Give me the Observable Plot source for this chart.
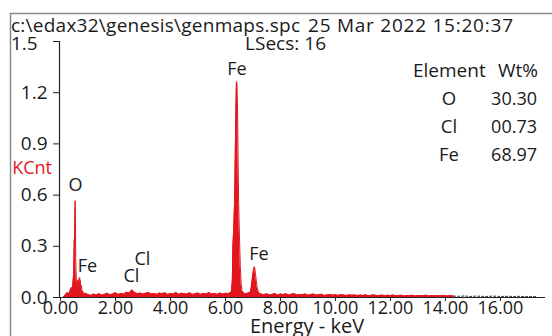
<!DOCTYPE html>
<html><head><meta charset="utf-8">
<script src="https://cdn.jsdelivr.net/npm/d3@7"></script>
<script src="https://cdn.jsdelivr.net/npm/@observablehq/plot@0.6"></script>
<style>
html,body{margin:0;padding:0;background:#fff;}
#chart{width:552px;height:336px;overflow:hidden;}
</style>
</head><body><div id="chart"></div>
<script>
// Spectrum (keV, kCnt)
const energy = [0.10,0.15,0.20,0.25,0.30,0.35,0.40,0.43,0.46,0.48,0.50,0.51,0.52,0.53,0.54,0.55,0.56,0.58,0.60,0.62,0.64,0.66,0.68,0.70,0.71,0.72,0.74,0.76,0.78,0.80,0.85,0.90,
1.0,1.1,1.2,1.3,1.4,1.5,1.6,1.7,1.8,1.9,2.0,2.1,2.2,2.3,2.4,2.5,2.6,2.7,2.8,2.9,3.0,3.1,3.2,3.3,3.4,3.5,3.6,3.7,3.8,3.9,4.0,4.1,4.2,4.3,4.4,4.5,4.6,4.7,4.8,4.9,5.0,5.1,5.2,5.3,5.4,5.5,5.6,5.7,5.8,5.9,6.0,6.1,6.2,
6.22,6.25,6.27,6.30,6.33,6.35,6.37,6.39,6.40,6.42,6.44,6.46,6.48,6.51,6.54,6.57,6.60,6.7,6.8,6.9,
6.93,6.96,6.99,7.02,7.05,7.07,7.09,7.12,7.15,7.18,7.22,
7.3,7.4,7.5,7.6,7.7,7.8,7.9,8.0,8.1,8.2,8.3,8.4,8.5,8.6,8.7,8.8,8.9,9.0,9.1,9.2,9.3,9.4,9.5,9.6,9.7,9.8,9.9,10.0,10.1,10.2,10.3,10.4,10.5,10.6,10.7,10.8,10.9,11.0,11.1,11.2,11.3,11.4,11.5,11.6,11.7,11.8,11.9,12.0,12.1,12.2,12.3,12.4,12.5,12.6,12.7,12.8,12.9,13.0,13.1,13.2,13.3,13.4,13.5,13.6,13.7,13.8,13.9,14.0,14.1,14.2,14.3];
const counts = [0.00,0.01,0.02,0.03,0.02,0.04,0.06,0.05,0.10,0.14,0.34,0.25,0.45,0.567,0.50,0.30,0.18,0.09,0.07,0.10,0.06,0.09,0.11,0.117,0.08,0.10,0.05,0.07,0.03,0.04,0.02,0.025,
0.018,0.012,0.020,0.015,0.022,0.014,0.018,0.025,0.016,0.020,0.028,0.018,0.024,0.020,0.030,0.026,0.045,0.030,0.022,0.026,0.020,0.025,0.030,0.020,0.024,0.018,0.026,0.022,0.028,0.018,0.024,0.020,0.030,0.018,0.025,0.022,0.020,0.028,0.018,0.022,0.026,0.018,0.024,0.020,0.030,0.020,0.024,0.018,0.026,0.020,0.025,0.022,0.030,
0.04,0.10,0.30,0.40,0.55,0.75,1.00,1.20,1.265,1.25,1.10,0.80,0.55,0.35,0.18,0.08,0.04,0.020,0.025,0.030,
0.05,0.09,0.13,0.16,0.18,0.17,0.14,0.10,0.06,0.04,0.025,
0.020,0.016,0.022,0.015,0.018,0.024,0.014,0.020,0.017,0.022,0.015,0.019,0.023,0.014,0.018,0.016,0.021,0.013,0.017,0.020,0.014,0.016,0.019,0.012,0.015,0.018,0.013,0.016,0.012,0.017,0.014,0.011,0.016,0.013,0.015,0.011,0.014,0.012,0.016,0.010,0.013,0.015,0.011,0.012,0.014,0.010,0.013,0.011,0.014,0.010,0.012,0.013,0.009,0.012,0.011,0.013,0.009,0.012,0.010,0.011,0.013,0.009,0.011,0.010,0.012,0.009,0.011,0.010,0.009,0.011,0.008];
// low-count tail beyond 14.3 keV (drawn dark)
const tailEnergy = [14.3,14.5,14.7,14.9,15.1,15.3,15.5,15.7,15.9,16.1,16.3,16.5,16.7,16.9,17.1,17.3];
const tailCounts = [0.008,0.007,0.009,0.006,0.008,0.007,0.006,0.008,0.007,0.006,0.007,0.006,0.007,0.005,0.006,0.005];

// Peak labels
const peakNames = ["O","Fe","Cl","Cl","Fe","Fe"];
const peakE = [0.55,0.98,2.58,2.98,6.42,7.22];
const peakY = [0.655,0.185,0.125,0.225,1.335,0.255];

// Quantification table
const elements = ["O","Cl","Fe"];
const wtPct = ["30.30","00.73","68.97"];

const yTicks = [0,0.3,0.6,0.9,1.2,1.5];
const xTicks = [0,2,4,6,8,10,12,14,16];

const filePath = "c:\\edax32\\genesis\\genmaps.spc";
const timestamp = "25 Mar 2022 15:20:37";
const lsecs = "LSecs: 16";
const yLabel = "KCnt";
const xLabel = "Energy - keV";

const spec = energy.map((e,i)=>({e, c:counts[i]}));
const tail = tailEnergy.map((e,i)=>({e, c:tailCounts[i]}));
const peaks = peakNames.map((n,i)=>({n, e:peakE[i], c:peakY[i]}));
const RED = "#e3151f";
const FONT = "'Open Sans', sans-serif";

const plot = Plot.plot({
  width: 552, height: 336,
  marginLeft: 60, marginRight: 7, marginTop: 41, marginBottom: 39,
  style: {fontFamily: FONT, fontSize: "18px", color: "#1a1a1a", background: "#fff"},
  x: {domain: [0, 17.64], label: null},
  y: {domain: [0, 1.5], label: null},
  marks: [
    Plot.areaY(spec, {x: "e", y: "c", fill: RED}),
    Plot.lineY(spec, {x: "e", y: "c", stroke: RED, strokeWidth: 1}),
    Plot.lineY(tail, {x: "e", y: "c", stroke: "#333", strokeWidth: 1, strokeDasharray: "2,2"}),
    Plot.ruleY([0], {stroke: "#222", strokeWidth: 1.2}),
    Plot.ruleX([0], {y1: 0, y2: 1.5, stroke: "#222", strokeWidth: 1.2, dx: -1}),
    Plot.axisY({ticks: yTicks, tickFormat: d => d === 1.5 ? "" : d.toFixed(1), tickSize: 7, tickPadding: 6, fontSize: 19, label: null, stroke: "#222"}),
    Plot.axisX({ticks: xTicks, tickFormat: d => d.toFixed(2), tickSize: 4, tickPadding: 0, fontSize: 18, label: null, stroke: "#222"}),
    Plot.text(peaks, {x: "e", y: "c", text: "n", fontSize: 18, fill: "#1a1a1a"})
  ]
});
document.getElementById("chart").appendChild(plot);

const svg = d3.select(plot);
// outer frame
svg.append("path").attr("d", "M10.5,336 V13.5 H552").attr("fill", "none").attr("stroke", "#8a8a8a").attr("stroke-width", 1.5);
const t = (x, y, s, opts = {}) => {
  const el = svg.append("text").attr("x", x).attr("y", y)
    .attr("text-anchor", opts.anchor || "start").attr("font-size", opts.size || 19)
    .attr("fill", opts.fill || "#1a1a1a").attr("font-family", FONT).text(s);
  if (opts.len) el.attr("textLength", opts.len).attr("lengthAdjust", "spacing");
  return el;
};
t(11, 32, filePath, {len: 289});
t(308, 32, timestamp, {len: 205});
t(11, 50, "1.5");
t(245, 50, lsecs, {len: 81});
t(52, 174, yLabel, {anchor: "end", size: 18, fill: RED});
t(307, 333, xLabel, {anchor: "middle", size: 20});
// table
t(413, 77, "Element", {size: 19});
t(538, 77, "Wt%", {anchor: "end", size: 19});
elements.forEach((el, i) => {
  const y = 105 + i * 28;
  t(449, y, el, {anchor: "middle", size: 18.5});
  t(537, y, wtPct[i], {anchor: "end", size: 18});
});
</script>
</body></html>
